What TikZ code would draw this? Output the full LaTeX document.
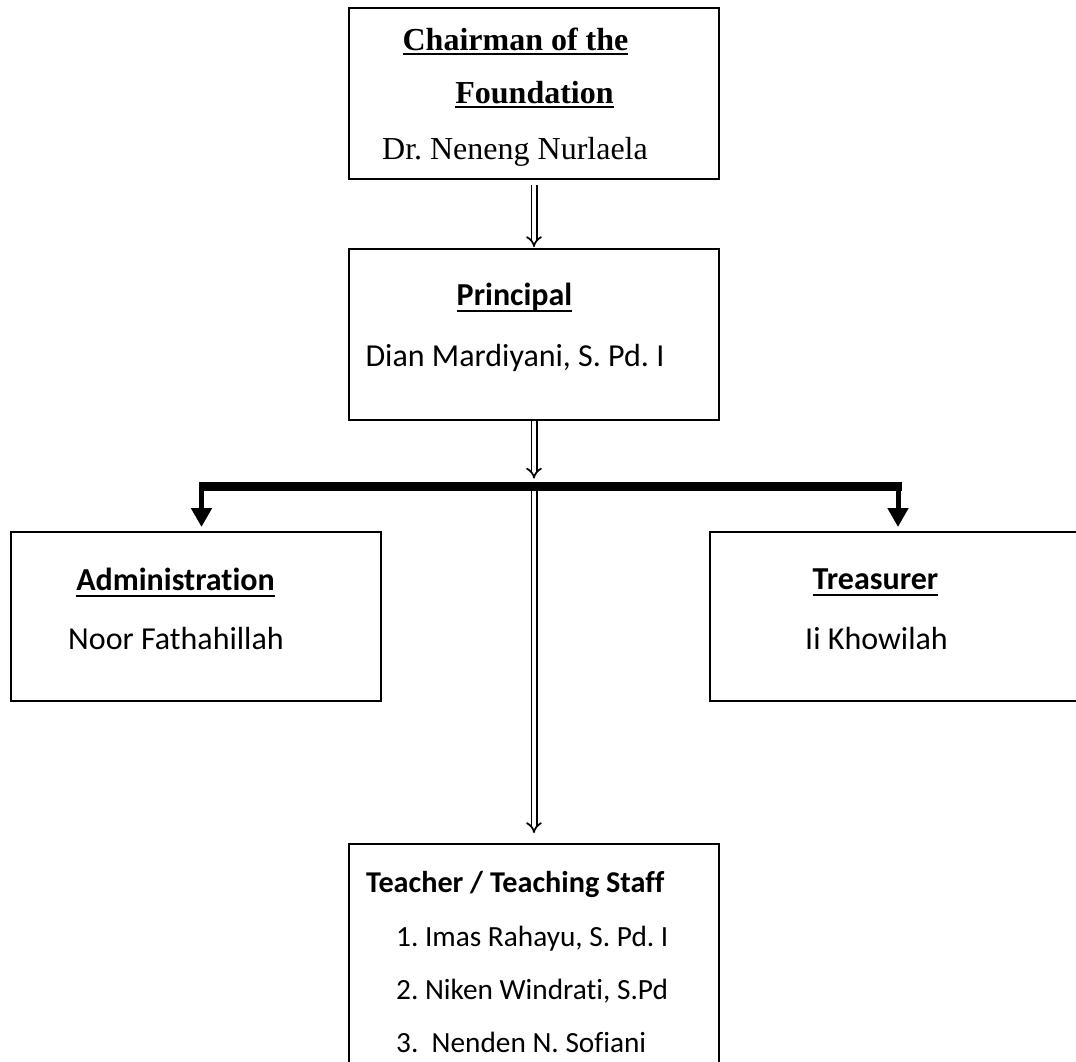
\documentclass[tikz,border=0pt]{standalone}
\usepackage{fontspec}
\setmainfont{Liberation Serif}
\newfontfamily\calibri[Ligatures=NoCommon]{Carlito}
\usetikzlibrary{arrows.meta, positioning}
\frenchspacing
\newcommand{\chartsize}{\fontsize{32pt}{38pt}\selectfont}
\newcommand{\listsize}{\fontsize{29.3pt}{35pt}\selectfont}
\newcommand{\ulhead}[2][-5pt]{\setbox0=\hbox{#2}\rlap{\rule[#1]{\wd0}{2pt}}\box0}
\tikzset{%
	orgbox/.style={
		draw,
		rectangle,
		line width=2pt,
		minimum width=370pt,
		minimum height=171pt,
		inner sep=0pt
	},
	serifline/.style={anchor=base, inner sep=0pt, font=\chartsize},
	serifhead/.style={anchor=base, inner sep=0pt, font=\bfseries\chartsize},
	sansline/.style={anchor=base, inner sep=0pt, font=\calibri\chartsize},
	sanshead/.style={anchor=base, inner sep=0pt, font=\calibri\bfseries\chartsize},
	listline/.style={anchor=base west, inner sep=0pt, font=\calibri\listsize},
	listhead/.style={anchor=base west, inner sep=0pt, font=\calibri\bfseries\fontsize{30.2pt}{36pt}\selectfont},
}

\begin{document}
\begin{tikzpicture}[
		x=1pt, y=-1pt,
		dbl/.style={double, double distance=3.6pt, line width=1.7pt, -{Implies}},
		bar/.style={line width=9pt},
		leg/.style={line width=5pt, -{Triangle[width=20pt,length=19pt]}, shorten >=4pt}
		]
		\fill[white] (0,0) rectangle (1076,1061);
		\useasboundingbox (0,0) rectangle (1076,1061);
		
		% Boxes
		\node[orgbox] (chair) at (534,93.5) {};
		\node[orgbox] (prin) at (534,334.5) {};
		\node[orgbox, minimum height=169pt] (adm) at (195.5,616.5) {};
		\node[orgbox, minimum height=169pt] (treas) at (894.5,616.5) {};
		\node[orgbox, minimum height=231pt] (teach) at (534,959.5) {};
		
		% Texts of the boxes
		\node[serifhead] (chairA) at (515.5,50) {\ulhead{Chairman of the}};
		\node[serifhead] (chairB) at (534.5,103) {\ulhead{Foundation}};
		\node[serifline] (chairC) at (515,159) {Dr. Neneng Nurlaela};
		\node[sanshead] (prinA) at (514.5,305) {\ulhead[-7pt]{Principal}};
		\node[sansline] (prinB) at (515,366) {Dian Mardiyani, S. Pd. I};
		\node[sanshead] (admA) at (175.5,590) {\ulhead[-7pt]{Administration}};
		\node[sansline] (admB) at (176,649) {Noor Fathahillah};
		\node[sanshead] (treasA) at (875.5,589) {\ulhead[-7pt]{Treasurer}};
		\node[sansline] (treasB) at (876.5,649) {Ii Khowilah};
		\node[listhead] (teachA) at (366,892) {Teacher / Teaching Staff};
		\node[listline] (teachB) at (396,946) {1. Imas Rahayu, S. Pd. I};
		\node[listline] (teachC) at (396,999) {2. Niken Windrati, S.Pd};
		\node[listline] (teachD) at (396,1052) {3.\ \ Nenden N. Sofiani};
		
		% Connectors
		\coordinate (split) at (534,486.5);
		\coordinate (barL) at (199,486.5);
		\coordinate (barR) at (902,486.5);
		\coordinate (legL) at (201.5,486.5);
		\coordinate (legR) at (898,486.5);
		
		\draw[dbl, shorten <=5pt, shorten >=1pt] (chair) -- (prin);
		\draw[dbl, shorten >=8pt] (prin) -- (split);
		\draw[dbl, shorten >=10pt] (split) -- (teach);
		\draw[bar] (barL) -- (barR);
		\draw[leg] (legL) -- (legL |- adm.north);
		\draw[leg] (legR) -- (legR |- treas.north);
		
	\end{tikzpicture}
\end{document}
